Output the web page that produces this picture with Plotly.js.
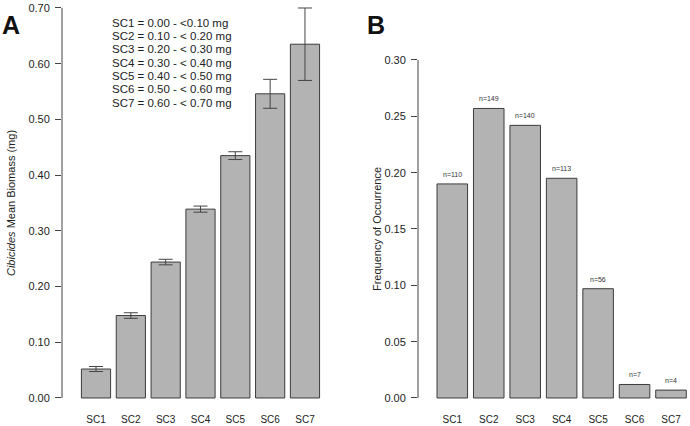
<!DOCTYPE html>
<html>
<head>
<meta charset="utf-8">
<script src="https://cdn.plot.ly/plotly-3.0.1.min.js"></script>
<style>html,body{margin:0;padding:0;background:#fff;}#chart{width:690px;height:426px;}</style>
</head>
<body>
<div id="chart"></div>
<script>
// ---- data ----
const sizeClasses = ["SC1", "SC2", "SC3", "SC4", "SC5", "SC6", "SC7"];
const meanBiomass = [0.052, 0.148, 0.244, 0.339, 0.435, 0.546, 0.635];
const biomassError = [0.0045, 0.005, 0.005, 0.0055, 0.007, 0.026, 0.065];
const frequency = [0.190, 0.257, 0.242, 0.195, 0.097, 0.012, 0.007];
const counts = ["n=110", "n=149", "n=140", "n=113", "n=56", "n=7", "n=4"];
const rangeLabels = [
  "SC1 = 0.00 - <0.10 mg",
  "SC2 = 0.10 - < 0.20 mg",
  "SC3 = 0.20 - < 0.30 mg",
  "SC4 = 0.30 - < 0.40 mg",
  "SC5 = 0.40 - < 0.50 mg",
  "SC6 = 0.50 - < 0.60 mg",
  "SC7 = 0.60 - < 0.70 mg"
];
const ticksA = [0, 0.1, 0.2, 0.3, 0.4, 0.5, 0.6, 0.7];
const tickTextA = ["0.00", "0.10", "0.20", "0.30", "0.40", "0.50", "0.60", "0.70"];
const ticksB = [0, 0.05, 0.1, 0.15, 0.2, 0.25, 0.3];
const tickTextB = ["0.00", "0.05", "0.10", "0.15", "0.20", "0.25", "0.30"];

// ---- layout helpers (pixel geometry) ----
const W = 690, H = 426;
const fx = p => p / W;
const fy = p => 1 - p / H;
const FONT = "Liberation Sans, Arial, Helvetica, sans-serif";

// Panel A geometry
const aLeft = 62, aRight = 330, aC0 = 96, aStep = 34.83;
const aZero = 398, aPer = (398 - 8) / 0.7;
const aYr = [-0.01, 0.71];
// Panel B geometry
const bLeft = 418, bRight = 689, bC0 = 452.3, bStep = 36.45;
const bZero = 398, bPer = (398 - 60) / 0.3;
const bYr = [-0.005, 0.305];

const barStyle = {color: "#b3b3b3", line: {color: "#3c3c3c", width: 1}};

const traces = [
  {
    type: "bar", x: sizeClasses, y: meanBiomass, xaxis: "x", yaxis: "y",
    marker: barStyle,
    error_y: {type: "data", array: biomassError, visible: true, color: "#444", thickness: 1, width: 7},
    hoverinfo: "x+y", showlegend: false
  },
  {
    type: "bar", x: sizeClasses, y: frequency, xaxis: "x2", yaxis: "y2",
    marker: barStyle, hoverinfo: "x+y", showlegend: false
  }
];

const annotations = [];
annotations.push({xref: "paper", yref: "paper", x: fx(11), y: fy(25), text: "<b>A</b>", showarrow: false,
  font: {family: FONT, size: 25, color: "#111"}, xanchor: "center", yanchor: "middle"});
annotations.push({xref: "paper", yref: "paper", x: fx(375.5), y: fy(25), text: "<b>B</b>", showarrow: false,
  font: {family: FONT, size: 25, color: "#111"}, xanchor: "center", yanchor: "middle"});
rangeLabels.forEach((t, i) => {
  annotations.push({xref: "paper", yref: "paper", x: fx(110), y: fy(22.5 + i * 13.4), text: t, showarrow: false,
    xanchor: "left", yanchor: "middle", font: {family: FONT, size: 11.5, color: "#222"}});
});
counts.forEach((t, i) => {
  annotations.push({xref: "x2", yref: "y2", x: sizeClasses[i], y: frequency[i], text: t, showarrow: false,
    xanchor: "center", yanchor: "bottom", yshift: 4, font: {family: FONT, size: 7, color: "#333333"}});
});

const axisLine = {color: "#444", width: 1};
const shapes = [
  {type: "line", xref: "x domain", yref: "y", x0: 0, x1: 0, y0: 0, y1: 0.7, line: axisLine},
  {type: "line", xref: "x2 domain", yref: "y2", x0: 0, x1: 0, y0: 0, y1: 0.3, line: axisLine}
];

const layout = {
  width: W, height: H,
  margin: {l: 0, r: 0, t: 0, b: 0},
  paper_bgcolor: "#fff", plot_bgcolor: "#fff",
  font: {family: FONT, color: "#222"},
  bargap: 0.162,
  showlegend: false,
  xaxis: {
    domain: [fx(aLeft), fx(aRight)], anchor: "y",
    range: [(aLeft - aC0) / aStep, (aRight - aC0) / aStep],
    showline: false, showgrid: false, zeroline: false, ticks: "",
    tickfont: {family: FONT, size: 10, color: "#222"}, ticklabelstandoff: 8
  },
  yaxis: {
    domain: [fy(aZero - aYr[0] * aPer), fy(aZero - aYr[1] * aPer)], anchor: "x",
    range: aYr, tickvals: ticksA, ticktext: tickTextA,
    showline: false, showgrid: false, zeroline: false,
    ticks: "outside", ticklen: 6, tickcolor: "#444", tickwidth: 1,
    tickfont: {family: FONT, size: 11, color: "#222"}, ticklabelstandoff: 3,
    title: {text: "<i>Cibicides</i> Mean Biomass (mg)", font: {family: FONT, size: 11, color: "#222"}, standoff: 10}
  },
  xaxis2: {
    domain: [fx(bLeft), fx(bRight)], anchor: "y2",
    range: [(bLeft - bC0) / bStep, (bRight - bC0) / bStep],
    showline: false, showgrid: false, zeroline: false, ticks: "",
    tickfont: {family: FONT, size: 10, color: "#222"}, ticklabelstandoff: 8
  },
  yaxis2: {
    domain: [fy(bZero - bYr[0] * bPer), fy(bZero - bYr[1] * bPer)], anchor: "x2",
    range: bYr, tickvals: ticksB, ticktext: tickTextB,
    showline: false, showgrid: false, zeroline: false,
    ticks: "outside", ticklen: 6, tickcolor: "#444", tickwidth: 1,
    tickfont: {family: FONT, size: 11, color: "#222"}, ticklabelstandoff: 3,
    title: {text: "Frequency of Occurrence", font: {family: FONT, size: 11, color: "#222"}, standoff: 0}
  },
  annotations: annotations,
  shapes: shapes
};

Plotly.newPlot("chart", traces, layout, {displayModeBar: false, staticPlot: true});
</script>
</body>
</html>
